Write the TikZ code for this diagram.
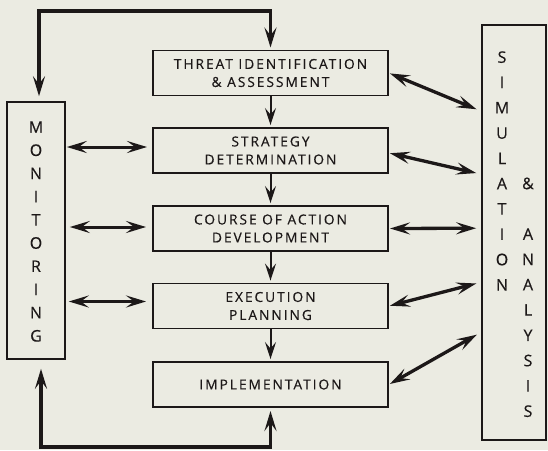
\documentclass[tikz,border=0pt]{standalone}
\usepackage{fontspec}
\setmainfont{Open Sans}[LetterSpace=14, UprightFeatures={FakeBold=0.35}]
\newfontfamily\uprightletters{Open Sans}[UprightFeatures={FakeBold=0.35}]
\usetikzlibrary{arrows.meta}
\definecolor{paper}{RGB}{235,235,226}
\definecolor{ink}{RGB}{28,24,24}

\begin{document}
\begin{tikzpicture}[x=1pt,y=-1pt,
  >={Stealth[length=20pt,width=12pt,inset=8pt]},
  stage/.style={draw=ink, line width=1.9pt, minimum width=235pt, minimum height=45pt,
    align=center, inner sep=0pt, text=ink, font=\fontsize{13.8}{18}\selectfont},
  column/.style={draw=ink, line width=1.6pt, inner sep=0pt},
  letters/.style={align=center, inner sep=0pt, text=ink},
  flow/.style={draw=ink, line width=2pt, ->,
    >={Stealth[length=17pt,width=11pt,inset=6.5pt]}, shorten >=2pt},
  sidelink/.style={draw=ink, line width=3pt, <->},
  diaglink/.style={draw=ink, line width=3.3pt, <->, shorten >=5pt, shorten <=1pt},
  feedback/.style={draw=ink, line width=3.5pt, <->, line join=miter},
]
% page and background
\fill[paper] (0,0) rectangle (548,450);
\useasboundingbox (0,0) rectangle (548,450);

% main process stages
\node[stage] (thr) at (270.5,73)    {THREAT IDENTIFICATION\\\& ASSESSMENT};
\node[stage] (str) at (270.5,150.5) {STRATEGY\\DETERMINATION};
\node[stage] (coa) at (270.5,228.5) {COURSE OF ACTION\\DEVELOPMENT};
\node[stage] (exe) at (270.5,306)   {EXECUTION\\PLANNING};
\node[stage] (imp) at (270.5,384.5) {IMPLEMENTATION};

% side columns with vertical lettering
\node[column, minimum width=58pt, minimum height=257pt] (mon) at (36,230.5) {};
\node[letters, font=\uprightletters\fontsize{16}{23.2}\selectfont] (monText) at (36,231.5)
  {M\\O\\N\\I\\T\\O\\R\\I\\N\\G};
\node[column, minimum width=64pt, minimum height=415pt] (sim) at (514,232.5) {};
\node[letters, font=\uprightletters\fontsize{16}{25.3}\selectfont] (simText) at (502,170.9)
  {S\\I\\M\\U\\L\\A\\T\\I\\O\\N};
\node[letters, font=\uprightletters\fontsize{16}{25.3}\selectfont] (anaText) at (528,297.3)
  {\&\\\mbox{}\\A\\N\\A\\L\\Y\\S\\I\\S};

% downward flow between stages
\draw[flow] (thr.south) -- (str.north);
\draw[flow] (str.south) -- (coa.north);
\draw[flow] (coa.south) -- (exe.north);
\draw[flow] (exe.south) -- (imp.north);

% monitoring links
\coordinate (mStr) at ([yshift=3.5pt]str.west);
\coordinate (mCoa) at ([yshift=1.5pt]coa.west);
\coordinate (mExe) at ([yshift=4.5pt]exe.west);
\draw[sidelink, shorten <=1pt, shorten >=5pt] (mStr -| mon.east) -- (mStr);
\draw[sidelink, shorten <=4pt, shorten >=6pt] (mCoa -| mon.east) -- (mCoa);
\draw[sidelink, shorten <=3pt, shorten >=6pt] (mExe -| mon.east) -- (mExe);

% simulation & analysis links
\draw[diaglink] (thr.east) -- ([yshift=-87pt]sim.north west);
\draw[diaglink] ([yshift=-2.5pt]str.east) -- ([yshift=-150pt]sim.north west);
\draw[diaglink] (coa.east) -- ([yshift=-204pt]sim.north west);
\draw[diaglink] (exe.east) -- ([yshift=-258pt]sim.north west);
\draw[diaglink] (imp.east) -- ([yshift=-308pt]sim.north west);

% feedback loops across the top and bottom
\coordinate (topBar) at (0,11);
\coordinate (bottomBar) at (0,447);
\draw[feedback, shorten <=5pt, shorten >=2pt]
  ([xshift=3pt]mon.north) -- ([xshift=3pt]mon.north |- topBar)
  -- (thr.north |- topBar) -- (thr.north);
\draw[feedback, shorten <=9pt, shorten >=3pt]
  ([xshift=5pt]mon.south) -- ([xshift=5pt]mon.south |- bottomBar)
  -- (imp.south |- bottomBar) -- (imp.south);
\end{tikzpicture}
\end{document}
